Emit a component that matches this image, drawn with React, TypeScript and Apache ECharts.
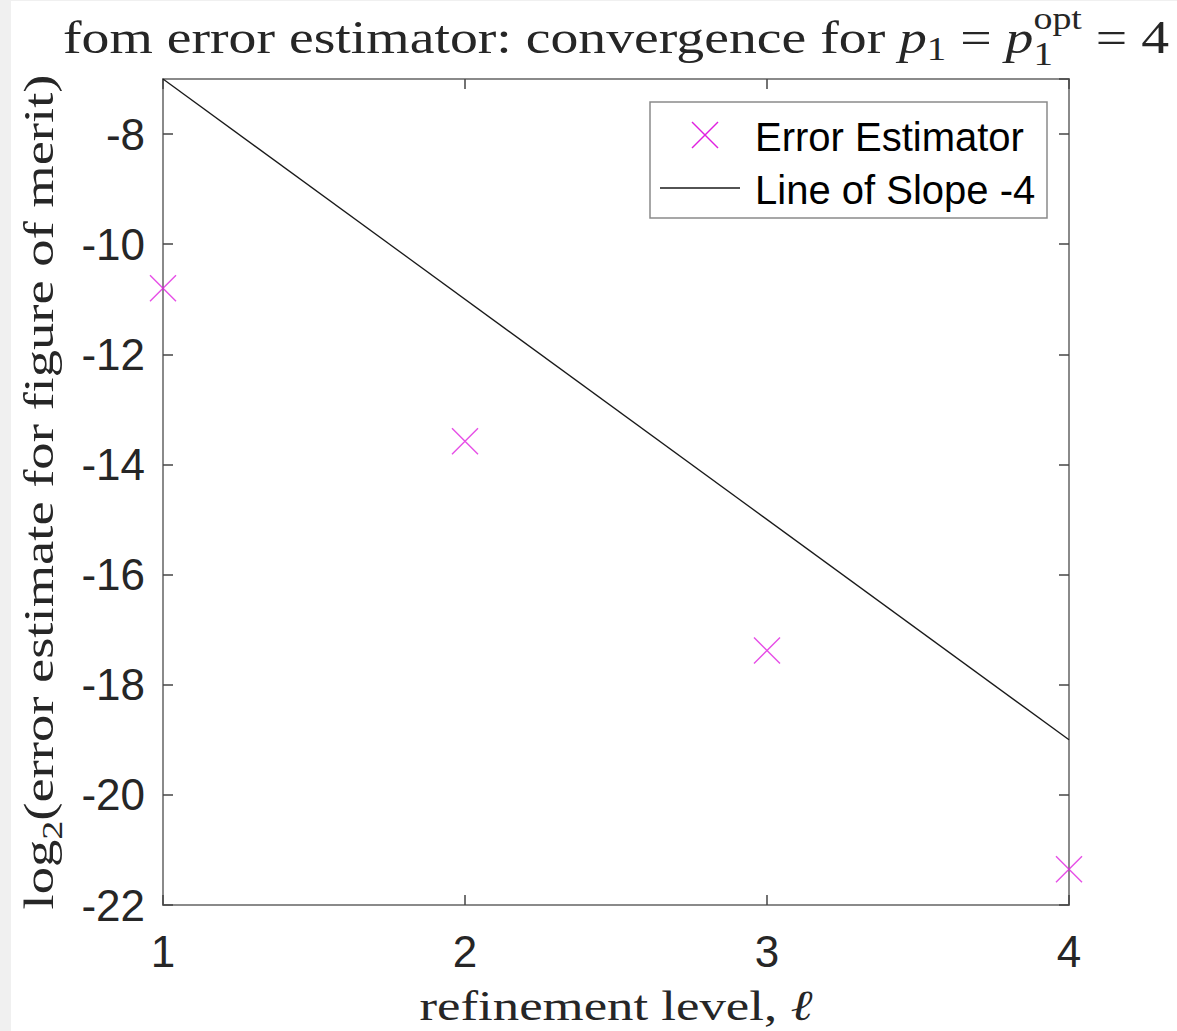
import React, { useEffect, useRef } from 'react';
import * as echarts from 'echarts';

// Refinement levels and the log2 error estimates for the figure of merit
const levels = [1, 2, 3, 4];
const errorEstimates = [-10.8, -13.58, -17.38, -21.35];

// Reference line of slope -4
const slopeLevels = [1, 4];
const slopeValues = [-7, -19];

// Axis extents
const xMin = 1;
const xMax = 4;
const yMin = -22;
const yMax = -7;
const yStep = 2;

const legendLabels = ['Error Estimator', 'Line of Slope -4'];

const SERIF = '"Liberation Serif", "DejaVu Serif", serif';
const SANS = '"Liberation Sans", Arial, Helvetica, sans-serif';
const MAGENTA = '#e020e0';
const TEXT = '#262626';
const AXIS = '#8a8a8a';

type Piece = { text: string; scale?: number; italic?: boolean; shift?: number; stack?: boolean };

const titlePieces: Piece[] = [
  { text: 'fom error estimator: convergence for ' },
  { text: 'p', italic: true },
  { text: '1', scale: 0.7, shift: 0.16 },
  { text: ' = ' },
  { text: 'p', italic: true },
  { text: '1', scale: 0.7, shift: 0.25, stack: true },
  { text: 'opt', scale: 0.68, shift: -0.5 },
  { text: ' = 4' },
];

const yLabelPieces: Piece[] = [
  { text: 'log' },
  { text: '2', scale: 0.7, shift: 0.2 },
  { text: '(error estimate for figure of merit)' },
];

const xLabelPieces: Piece[] = [
  { text: 'refinement level, ' },
  { text: 'ℓ', italic: true },
];

function fontOf(size: number, italic?: boolean) {
  return `${italic ? 'italic ' : ''}${size}px ${SERIF}`;
}

// Lay out a run of text pieces on a common baseline at a given size,
// stretched horizontally to span the target width
function mathText(
  ctx: CanvasRenderingContext2D,
  pieces: Piece[],
  size: number,
  targetWidth: number,
  cx: number,
  baseline: number,
  extra: any = {},
) {
  let x = 0;
  let stackW = 0;
  const items: any[] = [];
  for (const p of pieces) {
    const s = size * (p.scale ?? 1);
    ctx.font = fontOf(s, p.italic);
    const w = ctx.measureText(p.text).width;
    items.push({ ...p, x, s });
    if (p.stack) {
      stackW = Math.max(stackW, w);
    } else {
      x += Math.max(w, stackW);
      stackW = 0;
    }
  }
  const width = x;
  const left = -width / 2;
  return {
    type: 'group',
    x: cx,
    y: baseline,
    scaleX: targetWidth / width,
    ...extra,
    children: items.map((it) => ({
      type: 'text',
      x: left + it.x,
      y: (it.shift ?? 0) * size - 0.34 * it.s,
      silent: true,
      style: {
        text: it.text,
        fontSize: it.s,
        fontFamily: SERIF,
        fontStyle: it.italic ? 'italic' : 'normal',
        fill: TEXT,
        align: 'left',
        verticalAlign: 'middle',
        textAlign: 'left',
        textVerticalAlign: 'middle',
      },
    })),
  };
}

export default function App() {
  const ref = useRef<HTMLDivElement>(null);

  useEffect(() => {
    if (!ref.current) return;
    const chart = echarts.init(ref.current, undefined, { renderer: 'svg' });
    const canvas = document.createElement('canvas');
    const ctx = canvas.getContext('2d') as CanvasRenderingContext2D;

    const gridLeft = 163;
    const gridTop = 79;
    const gridRight = 1069;
    const gridBottom = 905;
    const cx = (gridLeft + gridRight) / 2;

    const title = mathText(ctx, titlePieces, 47, 1106, cx, 53);
    const xLabel = mathText(ctx, xLabelPieces, 43, 393, cx, 1020);
    const yLabelInner = mathText(ctx, yLabelPieces, 43, 835, 0, 0);
    const yLabel = {
      type: 'group',
      x: 53,
      y: (gridTop + gridBottom) / 2,
      rotation: Math.PI / 2,
      children: [yLabelInner],
    };

    const tickStyle = { show: true, inside: true, length: 10, lineStyle: { color: '#444', width: 1.5 } };
    const lineStyle = { show: true, lineStyle: { color: AXIS, width: 2 } };

    const legendX = 650;
    const legendY = 102;
    const legendText = (text: string, y: number) => ({
      type: 'text',
      x: 105,
      y,
      style: {
        text,
        fontSize: 40,
        fontFamily: SANS,
        fill: '#000000',
        align: 'left',
        verticalAlign: 'middle',
        textAlign: 'left',
        textVerticalAlign: 'middle',
      },
    });

    chart.setOption({
      animation: false,
      backgroundColor: '#ffffff',
      grid: {
        left: gridLeft,
        top: gridTop,
        width: gridRight - gridLeft,
        height: gridBottom - gridTop,
        show: true,
        backgroundColor: '#ffffff',
        borderColor: AXIS,
        borderWidth: 2,
      },
      xAxis: [
        {
          type: 'value',
          min: xMin,
          max: xMax,
          interval: 1,
          position: 'bottom',
          axisLine: lineStyle,
          axisTick: tickStyle,
          splitLine: { show: false },
          axisLabel: { fontSize: 44, fontFamily: SANS, color: TEXT, margin: 24 },
        },
        {
          type: 'value',
          min: xMin,
          max: xMax,
          interval: 1,
          position: 'top',
          axisLine: lineStyle,
          axisTick: tickStyle,
          splitLine: { show: false },
          axisLabel: { show: false },
        },
      ],
      yAxis: [
        {
          type: 'value',
          min: yMin,
          max: yMax,
          interval: yStep,
          position: 'left',
          axisLine: lineStyle,
          axisTick: tickStyle,
          splitLine: { show: false },
          axisLabel: {
            fontSize: 44,
            fontFamily: SANS,
            color: TEXT,
            margin: 18,
            showMaxLabel: false,
            formatter: (v: number) => (v === yMax ? '' : String(v)),
          },
        },
        {
          type: 'value',
          min: yMin,
          max: yMax,
          interval: yStep,
          position: 'right',
          axisLine: lineStyle,
          axisTick: tickStyle,
          splitLine: { show: false },
          axisLabel: { show: false },
        },
      ],
      series: [
        {
          name: legendLabels[1],
          type: 'line',
          data: slopeLevels.map((x, i) => [x, slopeValues[i]]),
          symbol: 'none',
          clip: false,
          lineStyle: { color: '#1a1a1a', width: 1.3 },
          z: 3,
        },
        {
          name: legendLabels[0],
          type: 'scatter',
          data: levels.map((x, i) => [x, errorEstimates[i]]),
          symbol: 'path://M0,0L10,10M10,0L0,10',
          symbolSize: 26,
          clip: false,
          itemStyle: { color: 'rgba(0,0,0,0)', borderColor: MAGENTA, borderWidth: 1.4 },
          z: 4,
        },
      ],
      graphic: [
        { type: 'rect', shape: { x: 0, y: 0, width: 11, height: 1031 }, style: { fill: '#f0f0f0' }, silent: true },
        { type: 'rect', shape: { x: 0, y: 0, width: 1177, height: 1 }, style: { fill: '#f0f0f0' }, silent: true },
        title,
        xLabel,
        yLabel,
        {
          type: 'group',
          x: legendX,
          y: legendY,
          z: 100,
          children: [
            {
              type: 'rect',
              shape: { x: 0, y: 0, width: 397, height: 116 },
              style: { fill: '#ffffff', stroke: '#8a8a8a', lineWidth: 1.5 },
            },
            {
              type: 'line',
              shape: { x1: 42, y1: 20, x2: 68, y2: 46 },
              style: { stroke: MAGENTA, lineWidth: 1.4 },
            },
            {
              type: 'line',
              shape: { x1: 68, y1: 20, x2: 42, y2: 46 },
              style: { stroke: MAGENTA, lineWidth: 1.4 },
            },
            {
              type: 'line',
              shape: { x1: 10, y1: 86, x2: 90, y2: 86 },
              style: { stroke: '#1a1a1a', lineWidth: 1.3 },
            },
            legendText(legendLabels[0], 35),
            legendText(legendLabels[1], 88),
          ],
        },
      ],
    });

    return () => chart.dispose();
  }, []);

  return (
    <div
      ref={ref}
      style={{ position: 'absolute', left: 0, top: 0, width: 1177, height: 1031, background: '#ffffff' }}
    />
  );
}
